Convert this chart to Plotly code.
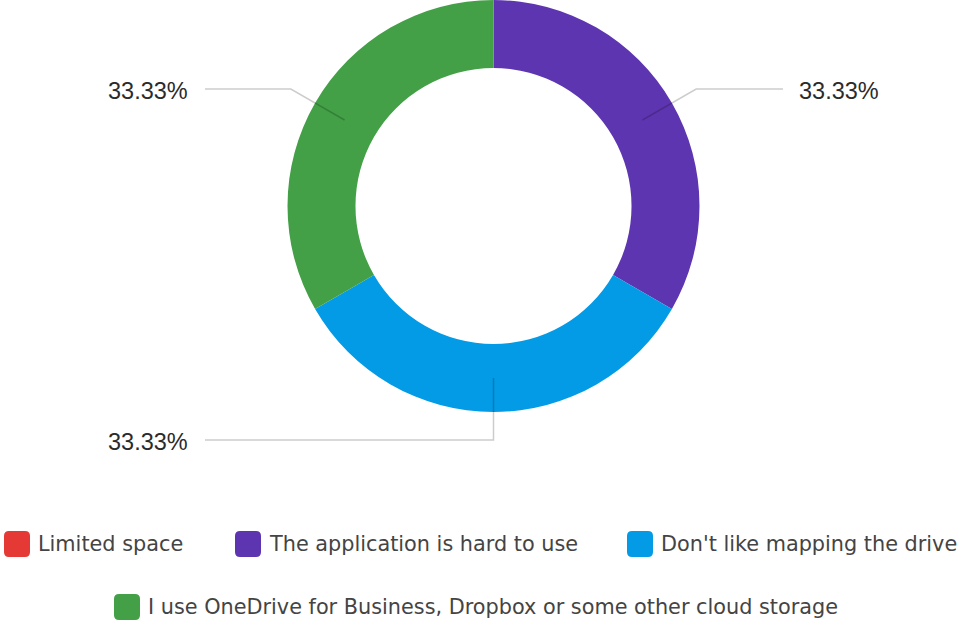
import math
import plotly.graph_objects as go

# Survey answers and their share of responses
categories = [
    "Limited space",
    "The application is hard to use",
    "Don't like mapping the drive",
    "I use OneDrive for Business, Dropbox or some other cloud storage",
]
responses = [0, 1, 1, 1]
colors = ["#e53935", "#5e35b1", "#039be5", "#43a047"]

W, H = 958, 625


def X(px):
    return px / W


def Y(py):
    return 1 - py / H


# Donut geometry in pixels
cx, cy, R = 493.5, 206, 206
hole = 0.67

fig = go.Figure(
    go.Pie(
        labels=categories,
        values=responses,
        hole=hole,
        sort=False,
        direction="clockwise",
        rotation=0,
        marker=dict(colors=colors, line=dict(width=0)),
        textinfo="none",
        hoverinfo="label+percent",
        showlegend=False,
        domain=dict(x=[X(cx - R), X(cx + R)], y=[Y(cy + R), min(1.0, Y(cy - R))]),
    )
)

shapes = []
annotations = []

# Percentage callouts with elbow leader lines
total = sum(responses)
r_start, r_elbow = 172, 234
left_col_end, right_col_end = 205, 783
cum = 0
for cat, v in zip(categories, responses):
    if v > 0:
        theta = 2 * math.pi * (cum + v / 2) / total
        sx, sy = cx + r_start * math.sin(theta), cy - r_start * math.cos(theta)
        ex, ey = cx + r_elbow * math.sin(theta), cy - r_elbow * math.cos(theta)
        right = math.sin(theta) > 1e-9
        end_x = right_col_end if right else left_col_end
        shapes.append(dict(
            type="path", xref="paper", yref="paper",
            path=f"M{X(sx)},{Y(sy)} L{X(ex)},{Y(ey)} L{X(end_x)},{Y(ey)}",
            line=dict(color="rgba(0,0,0,0.2)", width=1.5),
        ))
        annotations.append(dict(
            x=X(end_x + 14 if right else end_x - 15), y=Y(ey + 2),
            xref="paper", yref="paper",
            text=f"{v / total * 100:.2f}%",
            xanchor="left" if right else "right", yanchor="middle",
            showarrow=False,
            font=dict(family="Liberation Sans, Arial, sans-serif", size=23.5, color="#2b2b2b"),
        ))
    cum += v

# Legend: rounded colour swatches with labels
legend_items = [(4, 544), (235, 544), (627, 544), (114, 607)]
sw = 26
rad = 5
for (lx, ly), cat, col in zip(legend_items, categories, colors):
    x0, x1 = lx, lx + sw
    y0, y1 = ly - sw / 2, ly + sw / 2
    p = (
        f"M{X(x0 + rad)},{Y(y0)} L{X(x1 - rad)},{Y(y0)} "
        f"Q{X(x1)},{Y(y0)} {X(x1)},{Y(y0 + rad)} L{X(x1)},{Y(y1 - rad)} "
        f"Q{X(x1)},{Y(y1)} {X(x1 - rad)},{Y(y1)} L{X(x0 + rad)},{Y(y1)} "
        f"Q{X(x0)},{Y(y1)} {X(x0)},{Y(y1 - rad)} L{X(x0)},{Y(y0 + rad)} "
        f"Q{X(x0)},{Y(y0)} {X(x0 + rad)},{Y(y0)} Z"
    )
    shapes.append(dict(type="path", xref="paper", yref="paper", path=p,
                       fillcolor=col, line=dict(width=0)))
    annotations.append(dict(
        x=X(x1 + 6), y=Y(ly), xref="paper", yref="paper",
        text=cat, xanchor="left", yanchor="middle", showarrow=False,
        font=dict(family="DejaVu Sans, sans-serif", size=20.8, color="#444444"),
    ))

fig.update_layout(
    width=W, height=H,
    margin=dict(l=0, r=0, t=0, b=0),
    paper_bgcolor="white", plot_bgcolor="white",
    shapes=shapes, annotations=annotations,
)

fig.write_html("out.html")
